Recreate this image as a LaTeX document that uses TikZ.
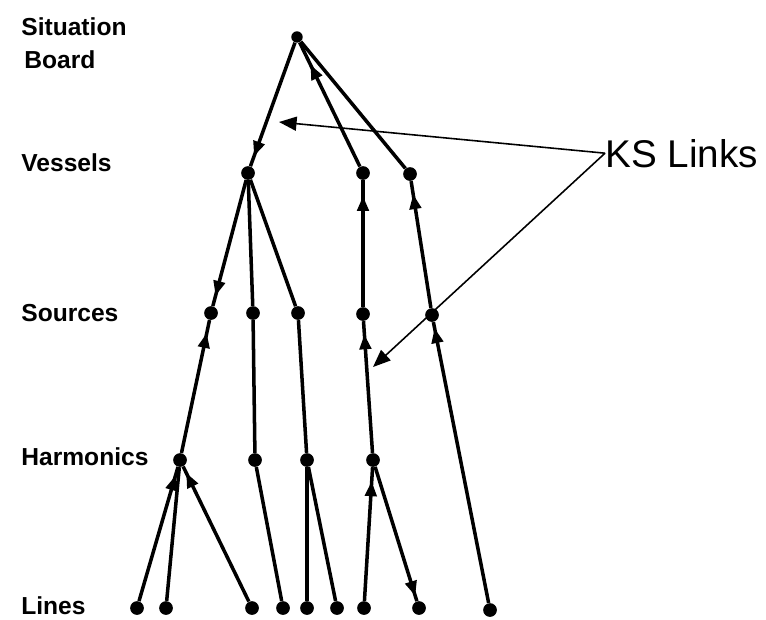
\documentclass[tikz,border=0pt]{standalone}
\usepackage{fontspec}
\setmainfont{Liberation Sans}
\usetikzlibrary{arrows.meta,decorations.markings}

\tikzset{
  dot/.style={circle, fill, inner sep=0pt, minimum size=7.8pt},
  link/.style={line width=2pt},
  fwd/.style={postaction={decorate, decoration={markings,
      mark=at position -#1 with {\arrow{Triangle[length=8.5pt,width=6.5pt]}}}}},
  fwd/.default=6pt,
  level/.style={anchor=base west, inner sep=0pt, font=\fontsize{14}{17}\selectfont\bfseries},
  pointer/.style={line width=0.9pt, -{Triangle[length=10pt,width=8pt]}},
}

\begin{document}
\begin{tikzpicture}[x=0.02cm, y=-0.02cm]
    \useasboundingbox (0,0) rectangle (766,619);

    % level names
    \node[level] (sit)  at (21,35)  {Situation};
    \node[level] (brd)  at (24,68)  {Board};
    \node[level] (lves) at (21,171) {Vessels};
    \node[level] (lsrc) at (21,321) {Sources};
    \node[level] (lhar) at (21,465) {Harmonics};
    \node[level] (llin) at (21,614) {Lines};

    % hypothesis elements
    \node[dot, minimum size=6.5pt] (sb) at (297,37) {};
    \node[dot] (v1) at (248,173) {};
    \node[dot] (v2) at (363,173) {};
    \node[dot] (v3) at (410,174) {};
    \node[dot] (s1) at (211,313) {};
    \node[dot] (s2) at (253,313) {};
    \node[dot] (s3) at (298,313) {};
    \node[dot] (s4) at (363,314) {};
    \node[dot] (s5) at (432,315) {};
    \node[dot] (h1) at (180,460) {};
    \node[dot] (h2) at (255,460) {};
    \node[dot] (h3) at (307,460) {};
    \node[dot] (h4) at (373,460) {};
    \node[dot] (l1) at (137,608) {};
    \node[dot] (l2) at (166,608) {};
    \node[dot] (l3) at (252,608) {};
    \node[dot] (l4) at (283,608) {};
    \node[dot] (l5) at (307,608) {};
    \node[dot] (l6) at (337,608) {};
    \node[dot] (l7) at (364,608) {};
    \node[dot] (l8) at (419,608) {};
    \node[dot] (l9) at (490,610) {};

    % links
    \draw[link, fwd] (sb) -- (v1);
    \draw[link, fwd=14pt] (v2) -- (sb);
    \draw[link] (sb) -- (v3);
    \draw[link, fwd] (v1) -- (s1);
    \draw[link] (v1) -- (s2);
    \draw[link] (v1) -- (s3);
    \draw[link, fwd=9pt] (s4) -- (v2);
    \draw[link, fwd=7.5pt] (s5) -- (v3);
    \draw[link, fwd=7.5pt] (h1) -- (s1);
    \draw[link] (s2) -- (h2);
    \draw[link] (s3) -- (h3);
    \draw[link, fwd=7.5pt] (h4) -- (s4);
    \draw[link, fwd=3.5pt] (l9) -- (s5);
    \draw[link, fwd=5pt] (l1) -- (h1);
    \draw[link] (l2) -- (h1);
    \draw[link, fwd=4pt] (l3) -- (h1);
    \draw[link] (h2) -- (l4);
    \draw[link] (h3) -- (l5);
    \draw[link] (h3) -- (l6);
    \draw[link, fwd=8pt] (l7) -- (h4);
    \draw[link, fwd=3pt] (h4) -- (l8);

    % KS links callout
    \node[anchor=base west, inner sep=0pt, font=\fontsize{22}{26}\selectfont] (ks) at (605,167) {KS Links};
    \coordinate (ktop) at (279,122);
    \coordinate (kbot) at (373,367);
    \draw[pointer] (ks.west) -- (ktop);
    \draw[pointer] (ks.west) -- (kbot);
\end{tikzpicture}
\end{document}
